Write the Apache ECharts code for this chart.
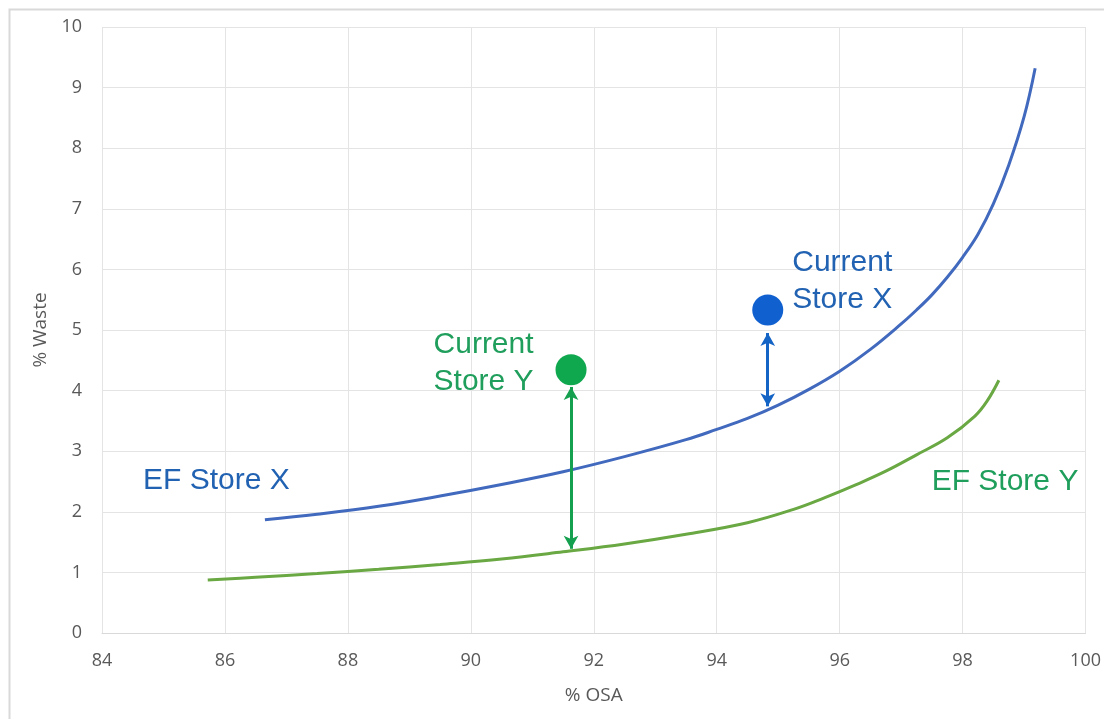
<!DOCTYPE html>
<html>
<head>
<meta charset="utf-8">
<script src="https://cdn.jsdelivr.net/npm/echarts@6/dist/echarts.min.js"></script>
<style>html,body{margin:0;padding:0;background:#fff;}#c{width:1104px;height:719px;}</style>
</head>
<body>
<div id="c"></div>
<script>
// Efficient frontier curves (% OSA, % Waste)
const storeXCurveOSA   = [86.65, 87.5, 88.5, 89.5, 90.5, 91.5, 92.5, 93.5, 94, 94.5, 95, 95.5, 96, 96.5, 97, 97.25, 97.5, 97.75, 98, 98.25, 98.5, 98.75, 99, 99.18];
const storeXCurveWaste = [1.87, 1.96, 2.09, 2.26, 2.45, 2.66, 2.91, 3.19, 3.36, 3.54, 3.76, 4.02, 4.32, 4.68, 5.10, 5.33, 5.58, 5.87, 6.20, 6.58, 7.08, 7.72, 8.52, 9.32];
const storeYCurveOSA   = [85.72, 86.5, 87.5, 88.5, 89.5, 90.5, 91.5, 92.5, 93.5, 94.5, 95.25, 95.75, 96.25, 96.75, 97.25, 97.75, 98.2, 98.4, 98.59];
const storeYCurveWaste = [0.875, 0.92, 0.98, 1.05, 1.13, 1.22, 1.34, 1.47, 1.63, 1.82, 2.04, 2.23, 2.44, 2.67, 2.94, 3.22, 3.58, 3.83, 4.17];
// Current store positions
const currentStoreX = [94.83, 5.33];
const currentStoreY = [91.63, 4.345];
// Gap arrows [osa, fromWaste, toWaste]
const arrowX = [94.83, 4.95, 3.74];
const arrowY = [91.63, 4.06, 1.39];
// Curve label anchors
const efLabelX = [85.86, 2.51];
const efLabelY = [98.69, 2.50];
// Axis ticks
const xTicks = [84, 86, 88, 90, 92, 94, 96, 98, 100];
const yTicks = [0, 1, 2, 3, 4, 5, 6, 7, 8, 9, 10];

const zip = (a, b) => a.map((v, i) => [v, b[i]]);
const textFont = '"Liberation Sans", Arial, sans-serif';
const tickFont = '"Open Sans", "Noto Sans", sans-serif';

const chart = echarts.init(document.getElementById('c'), null, {renderer: 'canvas'});
chart.setOption({
  animation: false,
  backgroundColor: '#ffffff',
  graphic: [{
    type: 'rect', left: 7, top: 7, silent: true,
    shape: {width: 1300, height: 900},
    style: {fill: 'none', stroke: '#d9d9d9', lineWidth: 2}
  }],
  grid: {left: 102, right: 14, top: 27, bottom: 86, containLabel: false},
  xAxis: {
    type: 'value', min: xTicks[0], max: xTicks[xTicks.length - 1], interval: xTicks[1] - xTicks[0],
    name: '% OSA', nameLocation: 'middle', nameGap: 53,
    nameTextStyle: {color: '#595959', fontSize: 19, fontFamily: tickFont},
    axisLine: {show: true, lineStyle: {color: '#d9d9d9', width: 1}},
    axisTick: {show: false},
    axisLabel: {color: '#595959', fontSize: 18, fontFamily: tickFont, margin: 19},
    splitLine: {show: true, lineStyle: {color: '#e4e4e4', width: 1}}
  },
  yAxis: {
    type: 'value', min: yTicks[0], max: yTicks[yTicks.length - 1], interval: yTicks[1] - yTicks[0],
    name: '% Waste', nameLocation: 'middle', nameGap: 45, nameRotate: 90,
    nameTextStyle: {color: '#595959', fontSize: 19, fontFamily: tickFont},
    axisLine: {show: false},
    axisTick: {show: false},
    axisLabel: {color: '#595959', fontSize: 18, fontFamily: tickFont, margin: 20},
    splitLine: {show: true, lineStyle: {color: '#e4e4e4', width: 1}}
  },
  series: [
    {
      name: 'EF Store X', type: 'line', smooth: 0.4, showSymbol: false,
      data: zip(storeXCurveOSA, storeXCurveWaste),
      lineStyle: {color: '#4169bd', width: 3}, itemStyle: {color: '#4169bd'}, z: 3
    },
    {
      name: 'EF Store Y', type: 'line', smooth: 0.4, showSymbol: false,
      data: zip(storeYCurveOSA, storeYCurveWaste),
      lineStyle: {color: '#6aa843', width: 3}, itemStyle: {color: '#6aa843'}, z: 3
    },
    {
      name: 'Current Store X', type: 'scatter', symbol: 'circle', symbolSize: 31,
      data: [currentStoreX],
      itemStyle: {color: '#1160cf', opacity: 1}, z: 5,
      label: {
        show: true, formatter: 'Current\nStore X', position: [40, -50],
        align: 'left', verticalAlign: 'top',
        color: '#2262b2', fontSize: 30, lineHeight: 37, fontFamily: textFont
      },
      markLine: {
        silent: true, symbol: ['arrow', 'arrow'], symbolSize: [11, 13],
        label: {show: false},
        lineStyle: {color: '#1464c6', width: 3, type: 'solid', opacity: 1},
        data: [[{coord: [arrowX[0], arrowX[1]]}, {coord: [arrowX[0], arrowX[2]]}]]
      }
    },
    {
      name: 'Current Store Y', type: 'scatter', symbol: 'circle', symbolSize: 31,
      data: [currentStoreY],
      itemStyle: {color: '#10a84f', opacity: 1}, z: 5,
      label: {
        show: true, formatter: 'Current\nStore Y', position: [-122, -28],
        align: 'left', verticalAlign: 'top',
        color: '#1f9e5c', fontSize: 30, lineHeight: 37, fontFamily: textFont
      },
      markLine: {
        silent: true, symbol: ['arrow', 'arrow'], symbolSize: [11, 13],
        label: {show: false},
        lineStyle: {color: '#14a04f', width: 3, type: 'solid', opacity: 1},
        data: [[{coord: [arrowY[0], arrowY[1]]}, {coord: [arrowY[0], arrowY[2]]}]]
      }
    },
    {
      name: 'EF labels', type: 'scatter', symbolSize: 0, silent: true,
      itemStyle: {opacity: 1},
      data: [
        {value: efLabelX, label: {formatter: 'EF Store X', color: '#2262b2'}},
        {value: efLabelY, label: {formatter: 'EF Store Y', color: '#1f9e5c'}}
      ],
      label: {show: true, position: 'inside', fontSize: 30, fontFamily: textFont}
    }
  ]
});
</script>
</body>
</html>
